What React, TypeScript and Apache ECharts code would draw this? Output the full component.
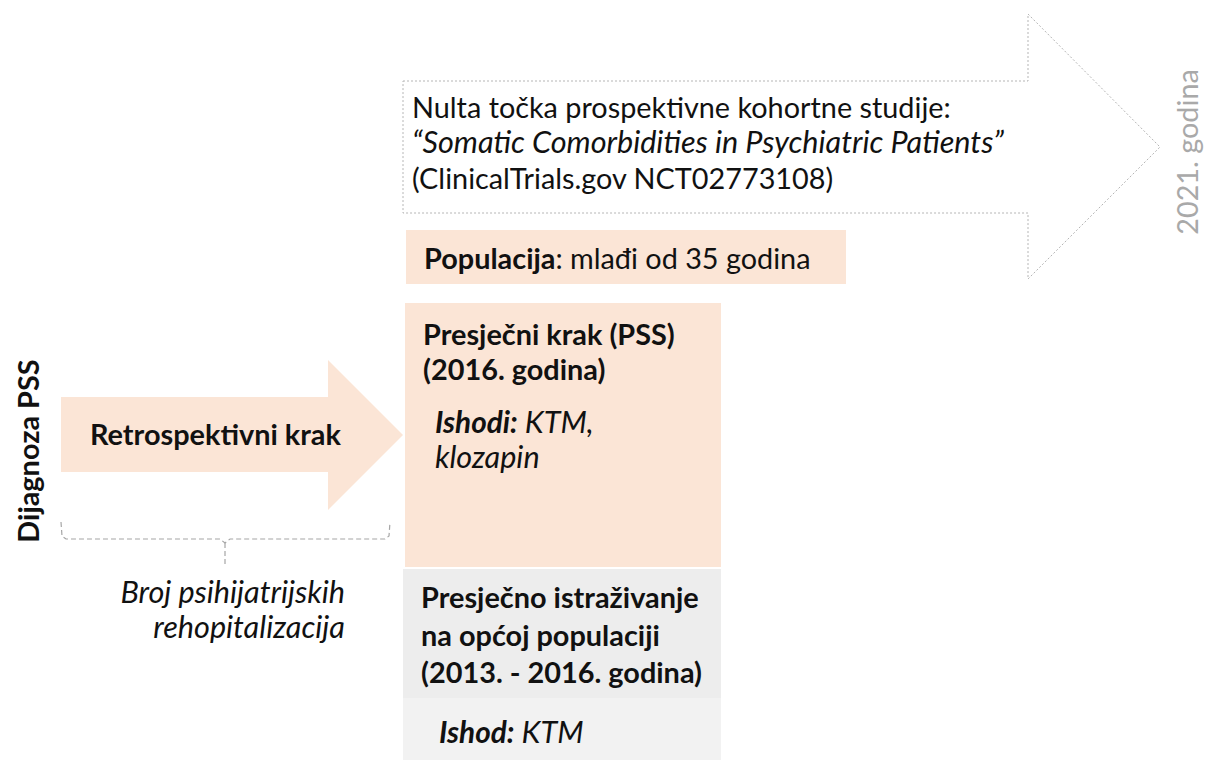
import React, { useEffect, useRef } from "react";
import * as echarts from "echarts";

// ---- texts of the diagram ----
const topLines = [
  "Nulta točka prospektivne kohortne studije:",
  "“Somatic Comorbidities in Psychiatric Patients”",
  "(ClinicalTrials.gov NCT02773108)",
];
const populacija = ["Populacija", ": mlađi od 35 godina"];
const retroLabel = "Retrospektivni krak";
const pssHeader = ["Presječni krak (PSS)", "(2016. godina)"];
const pssOutcome = [["Ishodi:", " KTM,"], ["", "klozapin"]];
const genHeader = ["Presječno istraživanje", "na općoj populaciji", "(2013. - 2016. godina)"];
const genOutcome = ["Ishod:", " KTM"];
const bracketLabel = ["Broj psihijatrijskih", "rehopitalizacija"];
const sideLabel = "Dijagnoza PSS";
const endLabel = "2021. godina";

const FAMILY = "Lato, 'Open Sans', sans-serif";
const PEACH = "#fbe5d6";
const GRAY1 = "#ededed";
const GRAY2 = "#f2f2f2";
const TEXT = "#111111";
const SOFT = "#a9a9a9";

function measure(text: string, weight: string, style: string): number {
  const c = document.createElement("canvas").getContext("2d");
  if (!c) return text.length * 50;
  c.font = `${style} ${weight} 100px Lato`;
  return c.measureText(text).width;
}

function clamp(v: number) {
  if (!isFinite(v)) return 28;
  return Math.max(20, Math.min(34, v));
}

export default function App() {
  const ref = useRef<HTMLDivElement>(null);
  useEffect(() => {
    document.body.style.margin = "0";
    if (!ref.current) return;
    const chart = echarts.init(ref.current, undefined, { renderer: "svg" });

    const fsR = clamp((100 * 539) / measure(topLines[0], "normal", "normal"));
    const fsI = clamp((100 * 592) / measure(topLines[1], "normal", "italic"));
    const fsB = clamp((100 * 281) / measure(genHeader[2], "bold", "normal"));
    const fs = { r: fsR, i: fsI, b: fsB, bi: (fsI + fsB) / 2 };

    const rich = {
      r: { fontSize: fs.r, fontFamily: FAMILY, fontWeight: "normal", fontStyle: "normal" },
      i: { fontSize: fs.i, fontFamily: FAMILY, fontWeight: "normal", fontStyle: "italic" },
      b: { fontSize: fs.b, fontFamily: FAMILY, fontWeight: "bold", fontStyle: "normal" },
      bi: { fontSize: fs.bi, fontFamily: FAMILY, fontWeight: "bold", fontStyle: "italic" },
    };

    type Seg = [string, "r" | "i" | "b" | "bi"];
    // x/baseline give the text's baseline anchor; rotated texts read bottom to top
    const txt = (
      x: number,
      baseline: number,
      segs: Seg[],
      align: string = "left",
      fill: string = TEXT,
      rotation = 0
    ) => {
      const size = Math.max(...segs.map((s) => fs[s[1]]));
      const off = 0.36 * size;
      const text = segs
        .filter((s) => s[0].length > 0)
        .map((s) => `{${s[1]}|${s[0]}}`)
        .join("");
      const r: any = {};
      for (const k of Object.keys(rich)) r[k] = { ...(rich as any)[k], color: fill };
      return {
        type: "text",
        x: rotation ? x - off : x,
        y: rotation ? baseline : baseline - off,
        rotation,
        silent: true,
        style: {
          text,
          rich: r,
          fill,
          align,
          textAlign: align,
          verticalAlign: "middle",
          textVerticalAlign: "middle",
        },
      };
    };

    const dotted = { stroke: "#b5b5b5", lineWidth: 1, lineDash: [2, 2], fill: "none" };
    const dashed = { stroke: "#a6a6a6", lineWidth: 1.2, lineDash: [5, 3], fill: "none" };

    const graphic: any[] = [
      // big hollow arrow
      {
        type: "polygon",
        silent: true,
        shape: {
          points: [
            [403, 81],
            [1028, 81],
            [1028, 14],
            [1160, 147],
            [1028, 279],
            [1028, 213],
            [403, 213],
          ],
        },
        style: { ...dotted, fill: "#ffffff" },
      },
      // population strip
      { type: "rect", silent: true, shape: { x: 406, y: 230, width: 440, height: 54 }, style: { fill: PEACH } },
      // retrospective arrow
      {
        type: "polygon",
        silent: true,
        shape: {
          points: [
            [61, 397],
            [328, 397],
            [328, 360],
            [403, 435],
            [328, 510],
            [328, 472],
            [61, 472],
          ],
        },
        style: { fill: PEACH },
      },
      // cross-sectional arm box
      { type: "rect", silent: true, shape: { x: 405, y: 303, width: 316, height: 264 }, style: { fill: PEACH } },
      // general population boxes
      { type: "rect", silent: true, shape: { x: 403, y: 569, width: 318, height: 129 }, style: { fill: GRAY1 } },
      { type: "rect", silent: true, shape: { x: 403, y: 698, width: 318, height: 62 }, style: { fill: GRAY2 } },
      // bracket
      {
        type: "polyline",
        silent: true,
        shape: {
          points: [
            [61, 522],
            [62, 536],
            [66, 539],
            [220, 539],
            [225, 543],
            [230, 539],
            [385, 539],
            [389, 536],
            [390, 522],
          ],
        },
        style: dashed,
      },
      { type: "line", silent: true, shape: { x1: 225, y1: 543, x2: 225, y2: 564 }, style: dashed },
    ];

    // texts
    const topBase = [117, 153, 188];
    graphic.push(txt(412, topBase[0], [[topLines[0], "r"]]));
    graphic.push(txt(412, topBase[1], [[topLines[1], "i"]]));
    graphic.push(txt(412, topBase[2], [[topLines[2], "r"]]));

    graphic.push(txt(424, 268, [[populacija[0], "b"], [populacija[1], "r"]]));

    graphic.push(txt(90, 444, [[retroLabel, "b"]]));

    graphic.push(txt(423, 344, [[pssHeader[0], "b"]]));
    graphic.push(txt(423, 379, [[pssHeader[1], "b"]]));
    graphic.push(txt(435, 433, [[pssOutcome[0][0], "bi"], [pssOutcome[0][1], "i"]]));
    graphic.push(txt(435, 468, [[pssOutcome[1][0], "bi"], [pssOutcome[1][1], "i"]]));

    graphic.push(txt(421, 607, [[genHeader[0], "b"]]));
    graphic.push(txt(421, 645, [[genHeader[1], "b"]]));
    graphic.push(txt(421, 682, [[genHeader[2], "b"]]));
    graphic.push(txt(439, 743, [[genOutcome[0], "bi"], [genOutcome[1], "i"]]));

    graphic.push(txt(345, 603, [[bracketLabel[0], "i"]], "right"));
    graphic.push(txt(345, 638, [[bracketLabel[1], "i"]], "right"));

    graphic.push(txt(38, 451, [[sideLabel, "b"]], "center", TEXT, Math.PI / 2));
    graphic.push(txt(1197, 152, [[endLabel, "r"]], "center", SOFT, Math.PI / 2));

    chart.setOption({
      animation: false,
      backgroundColor: "#ffffff",
      graphic,
    });
    return () => chart.dispose();
  }, []);
  return <div ref={ref} style={{ width: 1206, height: 760 }} />;
}
